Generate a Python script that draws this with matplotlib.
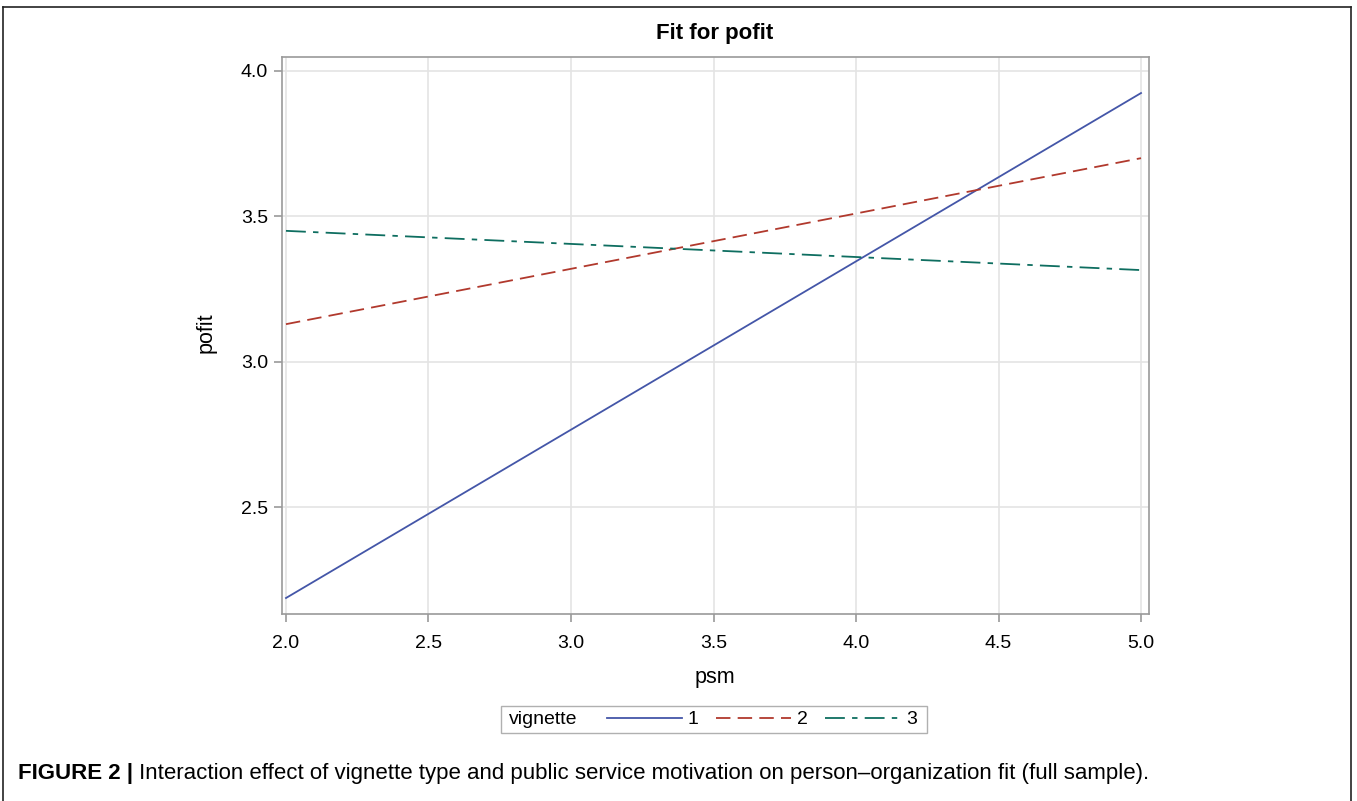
import matplotlib.pyplot as plt
from matplotlib.lines import Line2D
from matplotlib.patches import Rectangle

plt.rcParams['font.family'] = ['Liberation Sans', 'DejaVu Sans']

# Fitted line end points (psm = 2 and psm = 5)
psm = [2.0, 5.0]
fit_v1 = [2.187, 3.924]
fit_v2 = [3.129, 3.700]
fit_v3 = [3.450, 3.315]
vignettes = ["1", "2", "3"]
x_ticks = [2.0, 2.5, 3.0, 3.5, 4.0, 4.5, 5.0]
y_ticks = [2.5, 3.0, 3.5, 4.0]

colors = ["#4456A8", "#B1392D", "#0E6E60"]
styles = ["-", (0, (8, 4)), (0, (11, 4, 3, 4))]

W, H = 1357, 801
fig = plt.figure(figsize=(W / 100, H / 100), dpi=100)
ax = fig.add_axes([282 / W, 1 - 614 / H, (1149 - 282) / W, (614 - 57) / H])

for ys, c, ls, lab in zip([fit_v1, fit_v2, fit_v3], colors, styles, vignettes):
    ax.plot(psm, ys, color=c, linestyle=ls, lw=1.3, label=lab)

ax.set_xlim(1.986, 5.028)
ax.set_ylim(2.132, 4.048)
ax.set_xticks(x_ticks)
ax.set_yticks(y_ticks)
ax.set_xticklabels([f"{v:.1f}" for v in x_ticks])
ax.set_yticklabels([f"{v:.1f}" for v in y_ticks])
ax.grid(True, color="#e4e4e4", lw=1.2)
ax.set_axisbelow(True)
for s in ax.spines.values():
    s.set_color("#9a9a9a")
    s.set_linewidth(1.2)
ax.tick_params(colors="#9a9a9a", labelcolor="black", labelsize=14, length=6, width=1.2)
ax.tick_params(axis="x", pad=9)
ax.tick_params(axis="y", pad=4)

fig.text(715 / W, 1 - 33 / H, "Fit for pofit", ha="center", va="center",
         fontsize=16, fontweight="bold")
fig.text(715 / W, 1 - 677 / H, "psm", ha="center", va="center", fontsize=15.5)
fig.text(206 / W, 1 - 333 / H, "pofit", ha="center", va="center", fontsize=15.5, rotation=90)

# legend box
fig.patches.append(Rectangle((501 / W, 1 - 733 / H), (927 - 501) / W, 27 / H,
                             transform=fig.transFigure, fill=False,
                             edgecolor="#b0b0b0", lw=1))
fig.text(509 / W, 1 - 719.5 / H, "vignette", ha="left", va="center", fontsize=14)
handles, labels = ax.get_legend_handles_labels()
fig.legend(handles, labels, loc="center left", bbox_to_anchor=(607 / W, 1 - 719.5 / H),
           ncol=3, frameon=False, fontsize=14, handlelength=3.85,
           handletextpad=0.3, columnspacing=0.9, borderpad=0, borderaxespad=0)

# outer frame
fl = dict(color="#222222", lw=1.2, transform=fig.transFigure)
fig.lines.append(Line2D([3 / W, 3 / W], [0, 1 - 7 / H], **fl))
fig.lines.append(Line2D([3 / W, 1351 / W], [1 - 7 / H, 1 - 7 / H], **fl))
fig.lines.append(Line2D([1351 / W, 1351 / W], [0, 1 - 7 / H], **fl))

# caption
t1 = fig.text(18 / W, 1 - 773 / H, "FIGURE 2 |", ha="left", va="center",
              fontsize=16, fontweight="bold")
ax.annotate(" Interaction effect of vignette type and public service motivation on "
            "person\u2013organization fit (full sample).",
            xy=(1, 0.5), xycoords=t1, ha="left", va="center", fontsize=16,
            annotation_clip=False)

fig.savefig("out.png", dpi=100)
